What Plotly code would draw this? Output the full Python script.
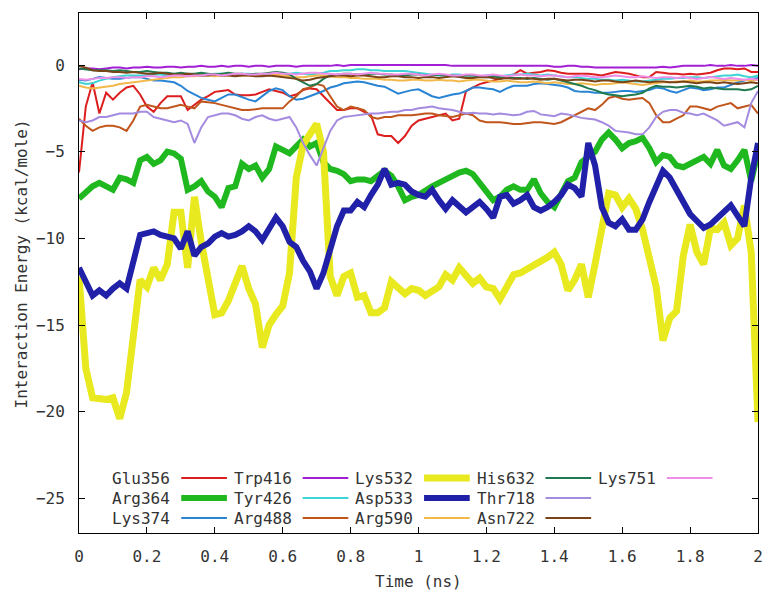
import numpy as np
import plotly.graph_objects as go

# Sampling times of the trajectory (ns), one frame every 20 ps
time_ns = np.round(np.linspace(0.0, 2.0, 101), 2)

residues = ["Glu356", "Arg364", "Lys374", "Trp416", "Tyr426", "Arg488", "Lys532",
            "Asp533", "Arg590", "His632", "Thr718", "Asn722", "Lys751"]

glu356 = [-6.2, -2.4, -1.0, -2.8, -1.6, -2.0, -1.6, -1.3, -1.2, -1.7, -2.4, -2.7, -2.2, -1.8, -1.8, -1.8,
          -2.6, -2.3, -2.0, -1.8, -1.55, -1.5, -1.45, -1.7, -1.75, -1.75, -1.7, -1.55, -1.4, -1.5, -1.6,
          -1.8, -1.7, -1.45, -1.35, -1.4, -1.8, -2.2, -2.6, -2.6, -2.5, -2.5, -2.7, -2.9, -4.0, -4.1,
          -4.1, -4.5, -4.1, -3.5, -3.2, -3.1, -3.0, -2.9, -2.8, -3.2, -3.1, -1.5, -1.3, -1.1, -1.0,
          -0.9, -0.8, -0.65, -0.55, -0.3, -0.5, -0.45, -0.4, -0.3, -0.35, -0.45, -0.5, -0.5, -0.5, -0.5,
          -0.55, -0.6, -0.5, -0.4, -0.45, -0.5, -0.6, -0.7, -0.7, -0.4, -0.45, -0.5, -0.5, -0.55, -0.5,
          -0.55, -0.5, -0.45, -0.3, -0.2, -0.2, -0.25, -0.2, -0.4, -0.4]

arg364 = [-7.7, -7.3, -7.0, -6.8, -7.0, -7.2, -6.5, -6.6, -6.8, -5.5, -5.3, -5.7, -5.5, -5.0, -5.1, -5.4,
          -7.2, -7.0, -6.7, -7.3, -7.6, -8.2, -7.1, -7.0, -5.7, -6.0, -5.8, -6.5, -6.0, -4.7, -4.9,
          -5.1, -4.7, -4.3, -4.7, -4.5, -5.6, -6.0, -6.1, -6.3, -6.7, -6.6, -6.6, -6.7, -6.4, -6.1,
          -6.4, -7.0, -7.8, -7.6, -7.5, -7.2, -7.0, -6.8, -6.6, -6.4, -6.2, -6.1, -6.3, -6.8, -7.3,
          -7.8, -7.6, -7.2, -7.0, -7.2, -7.2, -6.6, -7.4, -7.9, -8.2, -7.5, -6.7, -6.5, -5.6, -5.3,
          -5.0, -4.3, -3.9, -4.3, -4.8, -4.5, -4.4, -4.2, -4.8, -5.6, -5.2, -5.3, -5.8, -5.9, -5.7,
          -5.5, -5.3, -5.7, -4.9, -5.8, -6.0, -5.5, -4.9, -6.7, -5.0]

lys374 = [-0.85, -0.9, -0.8, -0.7, -0.75, -0.8, -0.8, -0.75, -0.7, -0.7, -0.8, -0.9, -0.9, -0.95, -1.0,
          -1.2, -1.5, -1.7, -1.9, -2.0, -2.1, -1.9, -1.7, -1.7, -1.85, -2.0, -2.1, -1.8, -1.5, -1.35,
          -1.45, -1.8, -2.0, -1.95, -1.8, -1.65, -1.5, -1.3, -1.2, -1.05, -1.0, -0.95, -1.0, -1.1,
          -1.2, -1.25, -1.45, -1.65, -1.55, -1.45, -1.4, -1.6, -1.8, -1.9, -1.8, -1.7, -1.65, -1.5,
          -1.3, -1.3, -1.35, -1.4, -1.55, -1.35, -1.2, -1.2, -1.2, -1.1, -1.05, -1.1, -1.15, -1.2,
          -1.3, -1.5, -1.55, -1.55, -1.6, -1.6, -1.6, -1.55, -1.5, -1.5, -1.55, -1.5, -1.45, -1.3,
          -1.35, -1.5, -1.6, -1.45, -1.3, -1.35, -1.45, -1.4, -1.3, -1.3, -1.15, -1.0, -0.9, -0.8, -0.75]

trp416 = [-0.25, -0.2, -0.2, -0.25, -0.2, -0.15, -0.15, -0.2, -0.15, -0.15, -0.1, -0.15, -0.15, -0.1,
          -0.1, -0.15, -0.1, -0.1, -0.05, -0.1, -0.1, -0.05, -0.1, -0.05, -0.05, -0.1, -0.05, -0.05,
          -0.1, -0.05, -0.05, -0.05, -0.1, -0.05, -0.05, -0.05, -0.05, -0.05, -0.0, -0.05, 0.0, 0.0,
          0.0, 0.0, 0.0, 0.0, 0.0, 0.0, 0.0, 0.0, 0.0, 0.0, 0.0, 0.0, 0.0, -0.05, -0.05, -0.05, -0.05,
          -0.05, -0.05, -0.05, -0.05, -0.05, -0.05, -0.05, -0.05, -0.05, -0.05, -0.05, -0.1, -0.1,
          -0.05, -0.05, -0.1, -0.1, -0.15, -0.15, -0.15, -0.15, -0.15, -0.15, -0.15, -0.15, -0.15,
          -0.15, -0.1, -0.15, -0.1, -0.05, -0.05, -0.05, -0.05, -0.0, -0.05, -0.05, 0.0, -0.05, -0.05,
          -0.0, -0.05]

tyr426 = [-1.0, -1.1, -1.05, -0.9, -0.8, -0.7, -0.65, -0.6, -0.6, -0.6, -0.6, -0.55, -0.55, -0.6,
          -0.6, -0.55, -0.55, -0.6, -0.6, -0.55, -0.5, -0.5, -0.55, -0.55, -0.5, -0.5, -0.55, -0.6,
          -0.55, -0.5, -0.45, -0.5, -0.45, -0.5, -0.55, -0.5, -0.45, -0.35, -0.35, -0.3, -0.3, -0.25,
          -0.25, -0.3, -0.3, -0.35, -0.35, -0.35, -0.35, -0.4, -0.45, -0.5, -0.55, -0.6, -0.6, -0.55,
          -0.55, -0.6, -0.6, -0.65, -0.6, -0.6, -0.65, -0.6, -0.55, -0.55, -0.5, -0.55, -0.6, -0.55,
          -0.6, -0.65, -0.7, -0.7, -0.75, -0.8, -0.8, -0.85, -0.85, -0.9, -0.85, -0.9, -0.95, -0.95,
          -0.9, -0.85, -0.8, -0.8, -0.75, -0.75, -0.7, -0.7, -0.75, -0.7, -0.65, -0.6, -0.6, -0.55,
          -0.65, -0.7, -0.6]

arg488 = [-3.1, -3.5, -3.8, -3.6, -3.5, -3.5, -3.6, -3.8, -3.2, -2.4, -2.3, -2.4, -2.5, -2.5, -2.4,
          -2.3, -2.4, -2.5, -2.1, -2.15, -2.2, -2.3, -2.4, -2.5, -2.6, -2.6, -2.55, -2.5, -2.5, -2.5,
          -2.5, -2.1, -1.8, -1.4, -1.3, -1.1, -1.2, -1.8, -2.4, -2.6, -2.4, -2.5, -2.6, -3.0, -3.1,
          -3.0, -3.0, -2.9, -2.9, -2.9, -2.85, -2.8, -2.8, -2.9, -2.95, -3.0, -2.9, -2.8, -2.9, -3.2,
          -3.3, -3.3, -3.3, -3.35, -3.4, -3.4, -3.35, -3.3, -3.3, -3.35, -3.4, -3.3, -3.1, -2.9, -2.7,
          -2.5, -2.6, -2.3, -1.9, -1.8, -1.95, -2.0, -1.95, -1.9, -2.2, -2.9, -3.3, -3.3, -3.1, -2.9,
          -2.4, -2.4, -2.5, -2.6, -2.4, -2.3, -2.2, -2.5, -2.4, -2.3, -2.8]

lys532 = [-12.2, -17.5, -19.2, -19.3, -19.3, -19.2, -20.4, -18.9, -15.8, -12.4, -12.8, -11.7, -12.4,
          -11.5, -8.5, -8.5, -11.7, -7.6, -10.2, -12.4, -14.4, -14.3, -13.6, -12.6, -11.6, -12.9,
          -13.8, -16.3, -15.0, -14.4, -13.9, -12.0, -6.5, -4.6, -4.0, -3.4, -5.0, -12.2, -13.3, -12.2,
          -12.0, -13.4, -13.3, -14.3, -14.3, -14.0, -12.5, -12.8, -13.2, -12.9, -13.0, -13.3, -13.1,
          -12.8, -12.1, -12.4, -11.7, -12.2, -12.6, -12.3, -12.8, -12.9, -13.5, -12.8, -12.1, -12.0,
          -11.8, -11.5, -11.3, -11.1, -10.8, -11.5, -13.0, -12.4, -11.5, -13.4, -11.5, -9.5, -7.4,
          -7.5, -8.2, -7.7, -8.3, -9.5, -11.2, -12.8, -15.9, -14.6, -14.2, -11.0, -9.2, -10.8, -11.5,
          -9.4, -9.5, -9.1, -10.4, -10.0, -8.1, -10.8, -20.6]

asp533 = [-11.7, -12.5, -13.3, -13.0, -13.3, -12.9, -12.6, -12.9, -11.5, -9.8, -9.7, -9.6, -9.8,
          -9.9, -10.0, -10.6, -9.6, -11.0, -10.5, -10.3, -9.9, -9.7, -9.9, -9.8, -9.6, -9.3, -9.6,
          -10.1, -9.5, -8.8, -9.3, -10.2, -10.5, -11.3, -11.9, -12.9, -12.0, -10.6, -9.3, -8.4, -8.4,
          -7.9, -8.2, -7.5, -6.9, -6.0, -6.9, -6.8, -6.9, -7.3, -7.5, -7.6, -7.2, -7.8, -8.3, -7.8,
          -8.2, -8.5, -8.2, -7.9, -8.3, -8.8, -7.6, -7.5, -8.0, -7.8, -7.5, -8.2, -8.4, -8.2, -7.9,
          -7.5, -6.9, -7.1, -7.6, -4.5, -5.8, -8.2, -9.1, -9.3, -8.9, -9.5, -9.5, -8.9, -7.9, -7.0,
          -6.1, -6.5, -7.2, -7.9, -8.6, -9.0, -9.4, -9.2, -8.8, -8.5, -8.1, -8.7, -9.3, -6.5, -4.5]

arg590 = [-1.2, -1.3, -1.35, -1.3, -1.25, -1.2, -1.1, -1.05, -1.0, -0.95, -0.9, -0.85, -0.8, -0.75,
          -0.7, -0.7, -0.65, -0.65, -0.6, -0.6, -0.65, -0.6, -0.6, -0.55, -0.6, -0.6, -0.65, -0.6,
          -0.6, -0.55, -0.6, -0.65, -0.7, -0.7, -0.65, -0.6, -0.6, -0.65, -0.7, -0.7, -0.75, -0.75,
          -0.8, -0.8, -0.8, -0.85, -0.85, -0.9, -0.9, -0.85, -0.85, -0.9, -0.9, -0.85, -0.9, -0.9,
          -0.95, -0.9, -0.85, -0.85, -0.9, -0.95, -0.95, -0.9, -0.95, -1.0, -1.0, -0.95, -1.0, -1.05,
          -1.0, -1.05, -1.1, -1.1, -1.05, -1.1, -1.15, -1.1, -1.1, -1.05, -1.0, -1.05, -1.1, -1.15,
          -1.1, -1.05, -1.0, -1.0, -0.95, -0.95, -0.9, -0.95, -0.95, -0.9, -0.9, -0.85, -0.9, -0.9,
          -0.85, -0.9, -0.85]

his632 = [-0.2, -0.25, -0.3, -0.3, -0.3, -0.35, -0.3, -0.35, -0.4, -0.4, -0.35, -0.4, -0.45, -0.45,
          -0.5, -0.45, -0.5, -0.5, -0.45, -0.5, -0.55, -0.5, -0.45, -0.5, -0.5, -0.55, -0.5, -0.5,
          -0.45, -0.4, -0.45, -0.55, -0.8, -1.0, -1.2, -1.1, -0.8, -0.6, -0.55, -0.5, -0.5, -0.55,
          -0.55, -0.5, -0.5, -0.55, -0.55, -0.6, -0.6, -0.55, -0.55, -0.6, -0.6, -0.55, -0.6, -0.6,
          -0.65, -0.6, -0.6, -0.65, -0.7, -0.65, -0.7, -0.7, -0.75, -0.75, -0.8, -0.75, -0.8, -0.85,
          -0.8, -0.9, -1.0, -1.1, -1.2, -1.35, -1.45, -1.6, -1.7, -1.75, -1.8, -1.75, -1.7, -1.6,
          -1.35, -1.2, -1.25, -1.25, -1.3, -1.25, -1.2, -1.25, -1.35, -1.3, -1.35, -1.4, -1.4, -1.4,
          -1.45, -1.4, -1.2]

thr718 = [-3.2, -3.3, -3.2, -3.0, -3.0, -2.9, -2.8, -2.8, -2.8, -2.7, -2.7, -3.0, -3.1, -3.2, -3.3,
          -3.2, -3.4, -4.5, -3.6, -3.0, -2.9, -2.8, -2.8, -2.9, -3.1, -3.2, -3.0, -2.9, -3.1, -3.2,
          -3.1, -3.0, -3.6, -4.5, -5.2, -5.8, -4.8, -3.8, -3.2, -3.0, -2.95, -2.9, -2.85, -2.8, -2.8,
          -2.75, -2.7, -2.7, -2.6, -2.6, -2.5, -2.45, -2.4, -2.5, -2.55, -2.6, -2.7, -2.8, -2.75,
          -2.8, -2.8, -2.85, -2.8, -2.85, -2.9, -2.85, -2.7, -2.65, -2.85, -2.9, -2.95, -2.8, -2.85,
          -2.95, -3.05, -3.1, -3.15, -3.3, -3.5, -3.8, -3.85, -3.9, -4.0, -4.0, -3.6, -3.0, -2.7,
          -2.6, -2.6, -2.75, -2.8, -2.9, -2.8, -3.0, -3.2, -3.5, -3.4, -3.3, -3.6, -2.2, -1.5]

asn722 = [-0.05, -0.15, -0.3, -0.35, -0.35, -0.4, -0.4, -0.45, -0.4, -0.45, -0.5, -0.5, -0.45, -0.5,
          -0.55, -0.55, -0.5, -0.55, -0.6, -0.6, -0.55, -0.6, -0.6, -0.65, -0.6, -0.6, -0.65, -0.65,
          -0.6, -0.65, -0.7, -0.75, -0.8, -0.9, -0.85, -0.75, -0.7, -0.65, -0.6, -0.6, -0.65, -0.6,
          -0.6, -0.65, -0.7, -0.7, -0.65, -0.65, -0.7, -0.7, -0.75, -0.7, -0.7, -0.75, -0.7, -0.65,
          -0.7, -0.75, -0.75, -0.7, -0.7, -0.75, -0.8, -0.75, -0.8, -0.8, -0.75, -0.8, -0.85, -0.8,
          -0.8, -0.85, -0.9, -0.85, -0.85, -0.9, -0.95, -0.9, -0.9, -0.95, -1.0, -0.95, -0.9, -0.95,
          -1.0, -0.95, -0.95, -1.0, -1.0, -0.95, -1.0, -1.05, -1.0, -1.0, -1.05, -1.0, -1.05, -1.1,
          -1.05, -1.0, -1.05]

lys751 = [-0.8, -0.85, -0.8, -0.75, -0.75, -0.7, -0.7, -0.75, -0.7, -0.7, -0.65, -0.65, -0.7, -0.65,
          -0.6, -0.6, -0.65, -0.6, -0.6, -0.55, -0.55, -0.6, -0.55, -0.5, -0.5, -0.55, -0.55, -0.5,
          -0.5, -0.45, -0.5, -0.5, -0.55, -0.5, -0.45, -0.45, -0.5, -0.5, -0.55, -0.5, -0.5, -0.55,
          -0.5, -0.45, -0.5, -0.5, -0.55, -0.55, -0.5, -0.5, -0.55, -0.6, -0.55, -0.5, -0.55, -0.6,
          -0.6, -0.55, -0.55, -0.6, -0.6, -0.55, -0.6, -0.65, -0.6, -0.55, -0.6, -0.6, -0.65, -0.6,
          -0.6, -0.65, -0.7, -0.65, -0.6, -0.65, -0.7, -0.7, -0.65, -0.6, -0.65, -0.7, -0.7, -0.65,
          -0.7, -0.75, -0.7, -0.7, -0.75, -0.7, -0.75, -0.8, -0.75, -0.7, -0.75, -0.8, -0.75, -0.8,
          -0.85, -0.8, -0.85]

energies = [glu356, arg364, lys374, trp416, tyr426, arg488, lys532,
            asp533, arg590, his632, thr718, asn722, lys751]

colors = ["#dc1e1e", "#1fb81f", "#2a84d4", "#a21fd6", "#3cd4d4", "#c0561c", "#e9e920",
          "#2020a8", "#f2b84a", "#1f7a50", "#a48be0", "#7a4418", "#ee8ee8"]
widths = [2, 6, 2, 2, 2, 2, 7, 6, 2, 2, 2, 2, 2]

FONT = "DejaVu Sans Mono"
TEXT = "#333333"

fig = go.Figure()
for name, vals, col, w in zip(residues, energies, colors, widths):
    fig.add_trace(go.Scatter(x=time_ns, y=vals, mode="lines", name=name,
                             line=dict(color=col, width=w), showlegend=False))

# Plot frame in pixels (used to place the key inside the axes)
L, T, W, H = 79, 13, 684, 520


def px_x(p):
    return (p - L) / W


def px_y(p):
    return (T + H - p) / H


# gnuplot-style key: label right-aligned, followed by the line sample, filled by column
shapes = []
annotations = []
n_rows = 3
for i, (name, col, w) in enumerate(zip(residues, colors, widths)):
    c, r = divmod(i, n_rows)
    text_right = 173 + 122.3 * c
    y = 478 + 20 * r
    annotations.append(dict(x=px_x(text_right), y=px_y(y), xref="paper", yref="paper",
                            text=name, showarrow=False, xanchor="right", yanchor="middle",
                            font=dict(family=FONT, size=16, color=TEXT)))
    shapes.append(dict(type="line", xref="paper", yref="paper",
                       x0=px_x(text_right + 9), x1=px_x(text_right + 55),
                       y0=px_y(y), y1=px_y(y), line=dict(color=col, width=w)))

annotations.append(dict(x=0.5, y=px_y(581), xref="paper", yref="paper", text="Time (ns)",
                        showarrow=False, xanchor="center", yanchor="middle",
                        font=dict(family=FONT, size=16, color=TEXT)))
annotations.append(dict(x=px_x(21), y=px_y(264), xref="paper", yref="paper",
                        text="Interaction Energy (kcal/mole)", textangle=-90,
                        showarrow=False, xanchor="center", yanchor="middle",
                        font=dict(family=FONT, size=16, color=TEXT)))

axis_common = dict(showgrid=False, zeroline=False, showline=True, linecolor="#000000",
                   linewidth=1, mirror="ticks", ticks="inside", ticklen=6, tickcolor="#000000",
                   tickfont=dict(family=FONT, size=16, color=TEXT))

fig.update_layout(
    width=771, height=592,
    margin=dict(l=L, r=771 - L - W, t=T, b=592 - T - H),
    paper_bgcolor="white", plot_bgcolor="white",
    xaxis=dict(range=[0, 2], tickmode="linear", tick0=0, dtick=0.2,
               ticklabelstandoff=9, **axis_common),
    yaxis=dict(range=[-27, 3], tickvals=[-25, -20, -15, -10, -5, 0],
               ticklabelstandoff=10, **axis_common),
    shapes=shapes, annotations=annotations,
)

fig.write_html("out.html")
